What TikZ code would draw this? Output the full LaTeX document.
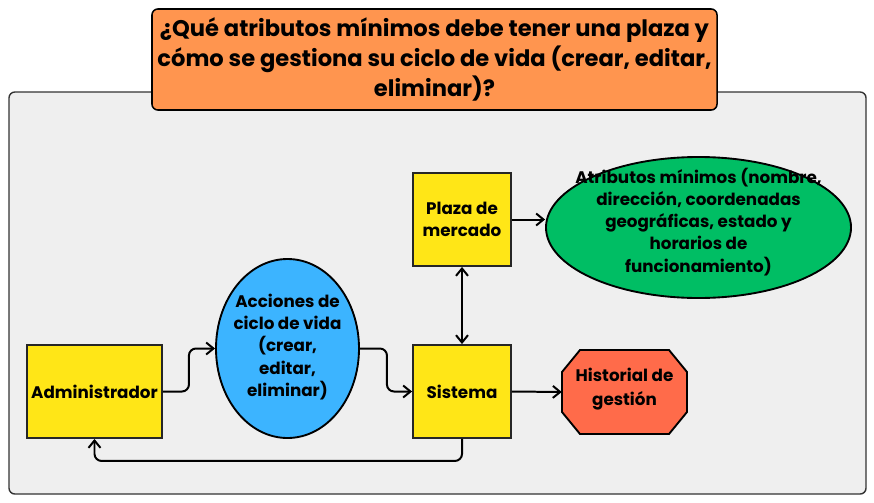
\documentclass[tikz,border=0pt]{standalone}
\usepackage{fontspec}
\setmainfont{Poppins}
\usepackage{tikz}
\usetikzlibrary{arrows.meta, shapes.geometric}
\definecolor{boxyellow}{HTML}{FFE617}
\definecolor{actblue}{HTML}{3CB4FF}
\definecolor{attgreen}{HTML}{00BE64}
\definecolor{histred}{HTML}{FF6B4A}
\definecolor{qorange}{HTML}{FF954F}
\definecolor{panel}{HTML}{EFEFEF}
\newcommand{\fitin}[1]{\smash{\makebox[0pt]{\begin{tabular}{@{}c@{}}#1\end{tabular}}}}

\begin{document}
\begin{tikzpicture}[x=0.03cm, y=-0.03cm, every node/.style={font=\bfseries\fontsize{14.3}{19}\selectfont, align=center}]
\tikzset{
  actor/.style={draw=black!85, line width=1.6pt, fill=boxyellow, minimum width=2.94cm, minimum height=2.79cm, inner sep=1pt},
  blob/.style={ellipse, draw=black, line width=1.6pt, inner sep=0},
  arr/.style={-{Straight Barb[length=2.2mm, width=3.6mm]}, line width=1.7pt, rounded corners=6pt}
}
\useasboundingbox (0,0) rectangle (874,502);
% --- panel and question ---
\draw[draw=black!80, line width=1.2pt, fill=panel, rounded corners=5pt] (9,92) rectangle (866,494);
\node[draw=black, line width=1.3pt, fill=qorange, rounded corners=5pt, minimum width=16.95cm, minimum height=3.03cm,
  font=\bfseries\fontsize{19.3}{25.5}\selectfont] (q) at (434.5,59.5)
  {¿Qué atributos mínimos debe tener una plaza y\\cómo se gestiona su ciclo de vida (crear, editar,\\eliminar)?};
% --- nodes ---
\node[actor, minimum width=4.05cm] (adm) at (94.5,391.5) {Administrador};
\node[blob, fill=actblue, minimum width=4.29cm, minimum height=5.37cm] (act) at (287.5,348.5)
  {\raisebox{-0.18cm}{\fitin{Acciones de\\ciclo de vida\\(crear,\\editar,\\eliminar)}}};
\node[actor] (sis) at (462,391.5) {Sistema};
\node[actor] (pla) at (462,219.5) {Plaza de\\mercado};
\node[blob, fill=attgreen, minimum width=9.15cm, minimum height=4.23cm] (atr) at (698.5,227.5)
  {\fitin{Atributos mínimos (nombre,\\dirección, coordenadas\\geográficas, estado y\\horarios de\\funcionamiento)}};
% octagon drawn by hand, text node on top
\filldraw[draw=black, line width=1.6pt, fill=histred] (580,350) -- (669,350) -- (687,372) -- (687,412)
  -- (669,434) -- (580,434) -- (562,412) -- (562,372) -- cycle;
\node[minimum width=3.75cm, minimum height=2.52cm, inner sep=0] (his) at (624.5,392)
  {\raisebox{-0.1cm}{\fitin{Historial de\\[1.5pt]gestión}}};
% --- connectors ---
\draw[arr] (adm.east) -- ++(26,0) |- (act.west);
\draw[arr] (act.east) -- ++(27,0) |- (sis.west);
\draw[arr] (sis.south) -- ++(0,22) -| (adm.south);
\draw[arr, {Straight Barb[length=2.2mm, width=3.6mm]}-{Straight Barb[length=2.2mm, width=3.6mm]}] (sis.north) -- (pla.south);
\draw[arr] (pla.east) -- (atr.west |- pla.east);
\draw[arr] (sis.east) -- (his.west);
\end{tikzpicture}
\end{document}
